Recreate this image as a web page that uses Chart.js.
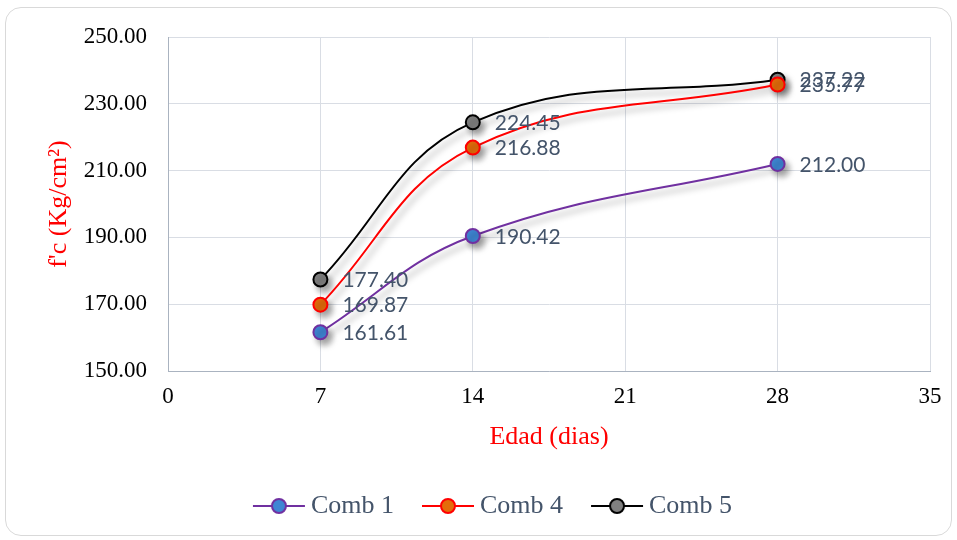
<!DOCTYPE html>
<html>
<head>
<meta charset="utf-8">
<script src="https://cdn.jsdelivr.net/npm/chart.js@4/dist/chart.umd.min.js"></script>
<style>
  html, body { margin: 0; padding: 0; background: #ffffff; }
  #wrap { position: relative; width: 957px; height: 540px; }
  #frame {
    position: absolute; left: 5px; top: 7px; width: 945px; height: 527px;
    border: 1px solid #d9d9d9; border-radius: 16px; pointer-events: none;
  }
  canvas { position: absolute; left: 0; top: 0; }
</style>
</head>
<body>
<div id="wrap">
  <canvas id="c" width="957" height="540"></canvas>
  <div id="frame"></div>
</div>
<script>
// Curing age (days) and compressive strength for each mix
const edades = [7, 14, 28];
const comb1 = [161.61, 190.42, 212.00];
const comb4 = [169.87, 216.88, 235.77];
const comb5 = [177.40, 224.45, 237.22];
const seriesNames = ['Comb 1', 'Comb 4', 'Comb 5'];
const xTicks = [0, 7, 14, 21, 28, 35];
const yTicks = [150, 170, 190, 210, 230, 250];

const serif = "'Liberation Serif', 'Times New Roman', serif";
const labelColor = '#44546a';

// legend key: a short line with the marker in its middle
function legendMarker(line, fill) {
  const cv = document.createElement('canvas');
  cv.width = 60; cv.height = 20;
  const g = cv.getContext('2d');
  g.strokeStyle = line; g.lineWidth = 2;
  g.beginPath(); g.moveTo(5, 10); g.lineTo(57, 10); g.stroke();
  g.beginPath(); g.arc(31, 10, 7, 0, Math.PI * 2);
  g.fillStyle = fill; g.fill();
  g.lineWidth = 2; g.stroke();
  return cv;
}

function makeSeries(name, values, line, fill) {
  return {
    label: name,
    data: edades.map((x, i) => ({ x: x, y: values[i] })),
    borderColor: line,
    backgroundColor: fill,
    pointBackgroundColor: fill,
    pointBorderColor: line,
    pointBorderWidth: 2,
    pointRadius: 7,
    borderWidth: 2,
    tension: 0.4,
    showLine: true,
    pointStyle: 'circle',
    legendMarker: legendMarker(line, fill)
  };
}

const datasets = [
  makeSeries(seriesNames[0], comb1, '#7030a0', '#3f86d4'),
  makeSeries(seriesNames[1], comb4, '#ff0000', '#e46c0a'),
  makeSeries(seriesNames[2], comb5, '#000000', '#808080')
];

// soft drop shadow under each line and its markers
const shadowPlugin = {
  id: 'lineShadow',
  beforeDatasetDraw(chart) {
    const ctx = chart.ctx;
    ctx.save();
    ctx.shadowColor = 'rgba(0,0,0,0.35)';
    ctx.shadowBlur = 6;
    ctx.shadowOffsetX = 4;
    ctx.shadowOffsetY = 5;
  },
  afterDatasetDraw(chart) {
    chart.ctx.restore();
  }
};

// nudge the legend row a little to the right of centre
const legendShift = {
  id: 'legendShift',
  afterLayout(chart) {
    const lg = chart.legend;
    if (lg) { lg.left += 30; lg.right += 30; }
  }
};

// value labels to the right of each marker
const valueLabels = {
  id: 'valueLabels',
  afterDatasetsDraw(chart) {
    const ctx = chart.ctx;
    ctx.save();
    ctx.font = "21px Lato, 'Open Sans', sans-serif";
    ctx.fillStyle = labelColor;
    ctx.textAlign = 'left';
    ctx.textBaseline = 'middle';
    chart.data.datasets.forEach((ds, di) => {
      const meta = chart.getDatasetMeta(di);
      meta.data.forEach((pt, i) => {
        ctx.fillText(ds.data[i].y.toFixed(2), pt.x + 22, pt.y + 1);
      });
    });
    ctx.restore();
  }
};

new Chart(document.getElementById('c'), {
  type: 'scatter',
  data: { datasets: datasets },
  options: {
    responsive: false,
    animation: false,
    layout: { padding: { top: 37, right: 27, bottom: 11, left: 0 } },
    plugins: {
      tooltip: { enabled: false },
      legend: {
        position: 'bottom',
        labels: {
          usePointStyle: true,
          pointStyleWidth: 40,
          padding: 33,
          color: labelColor,
          font: { family: serif, size: 26 },
          generateLabels(chart) {
            return chart.data.datasets.map((ds, i) => ({
              text: ds.label,
              pointStyle: ds.legendMarker,
              fillStyle: ds.backgroundColor,
              strokeStyle: ds.borderColor,
              lineWidth: 0,
              fontColor: labelColor,
              hidden: false,
              datasetIndex: i
            }));
          }
        }
      }
    },
    scales: {
      x: {
        type: 'linear',
        min: xTicks[0],
        max: xTicks[xTicks.length - 1],
        afterBuildTicks(scale) { scale.ticks = xTicks.map(v => ({ value: v })); },
        afterFit(scale) { scale.height = 89; },
        ticks: { color: '#000000', padding: 12, font: { family: serif, size: 23 } },
        grid: { color: '#d9dde4', lineWidth: 1, drawTicks: false },
        border: { color: '#aab3c0', width: 1 },
        title: {
          display: true, text: 'Edad (dias)', color: '#ff0000',
          font: { family: serif, size: 26 }, padding: { top: 0, bottom: 7 }
        }
      },
      y: {
        type: 'linear',
        min: yTicks[0],
        max: yTicks[yTicks.length - 1],
        afterBuildTicks(scale) { scale.ticks = yTicks.map(v => ({ value: v })); },
        afterFit(scale) { scale.width = 168; },
        ticks: {
          color: '#000000', padding: 21, font: { family: serif, size: 23 },
          callback: v => Number(v).toFixed(2)
        },
        grid: { color: '#d9dde4', lineWidth: 1, drawTicks: false },
        border: { color: '#aab3c0', width: 1 },
        title: {
          display: true, text: "f'c (Kg/cm²)", color: '#ff0000',
          font: { family: serif, size: 26 }, padding: { top: 44, bottom: 0 }
        }
      }
    }
  },
  plugins: [shadowPlugin, legendShift, valueLabels]
});
</script>
</body>
</html>
